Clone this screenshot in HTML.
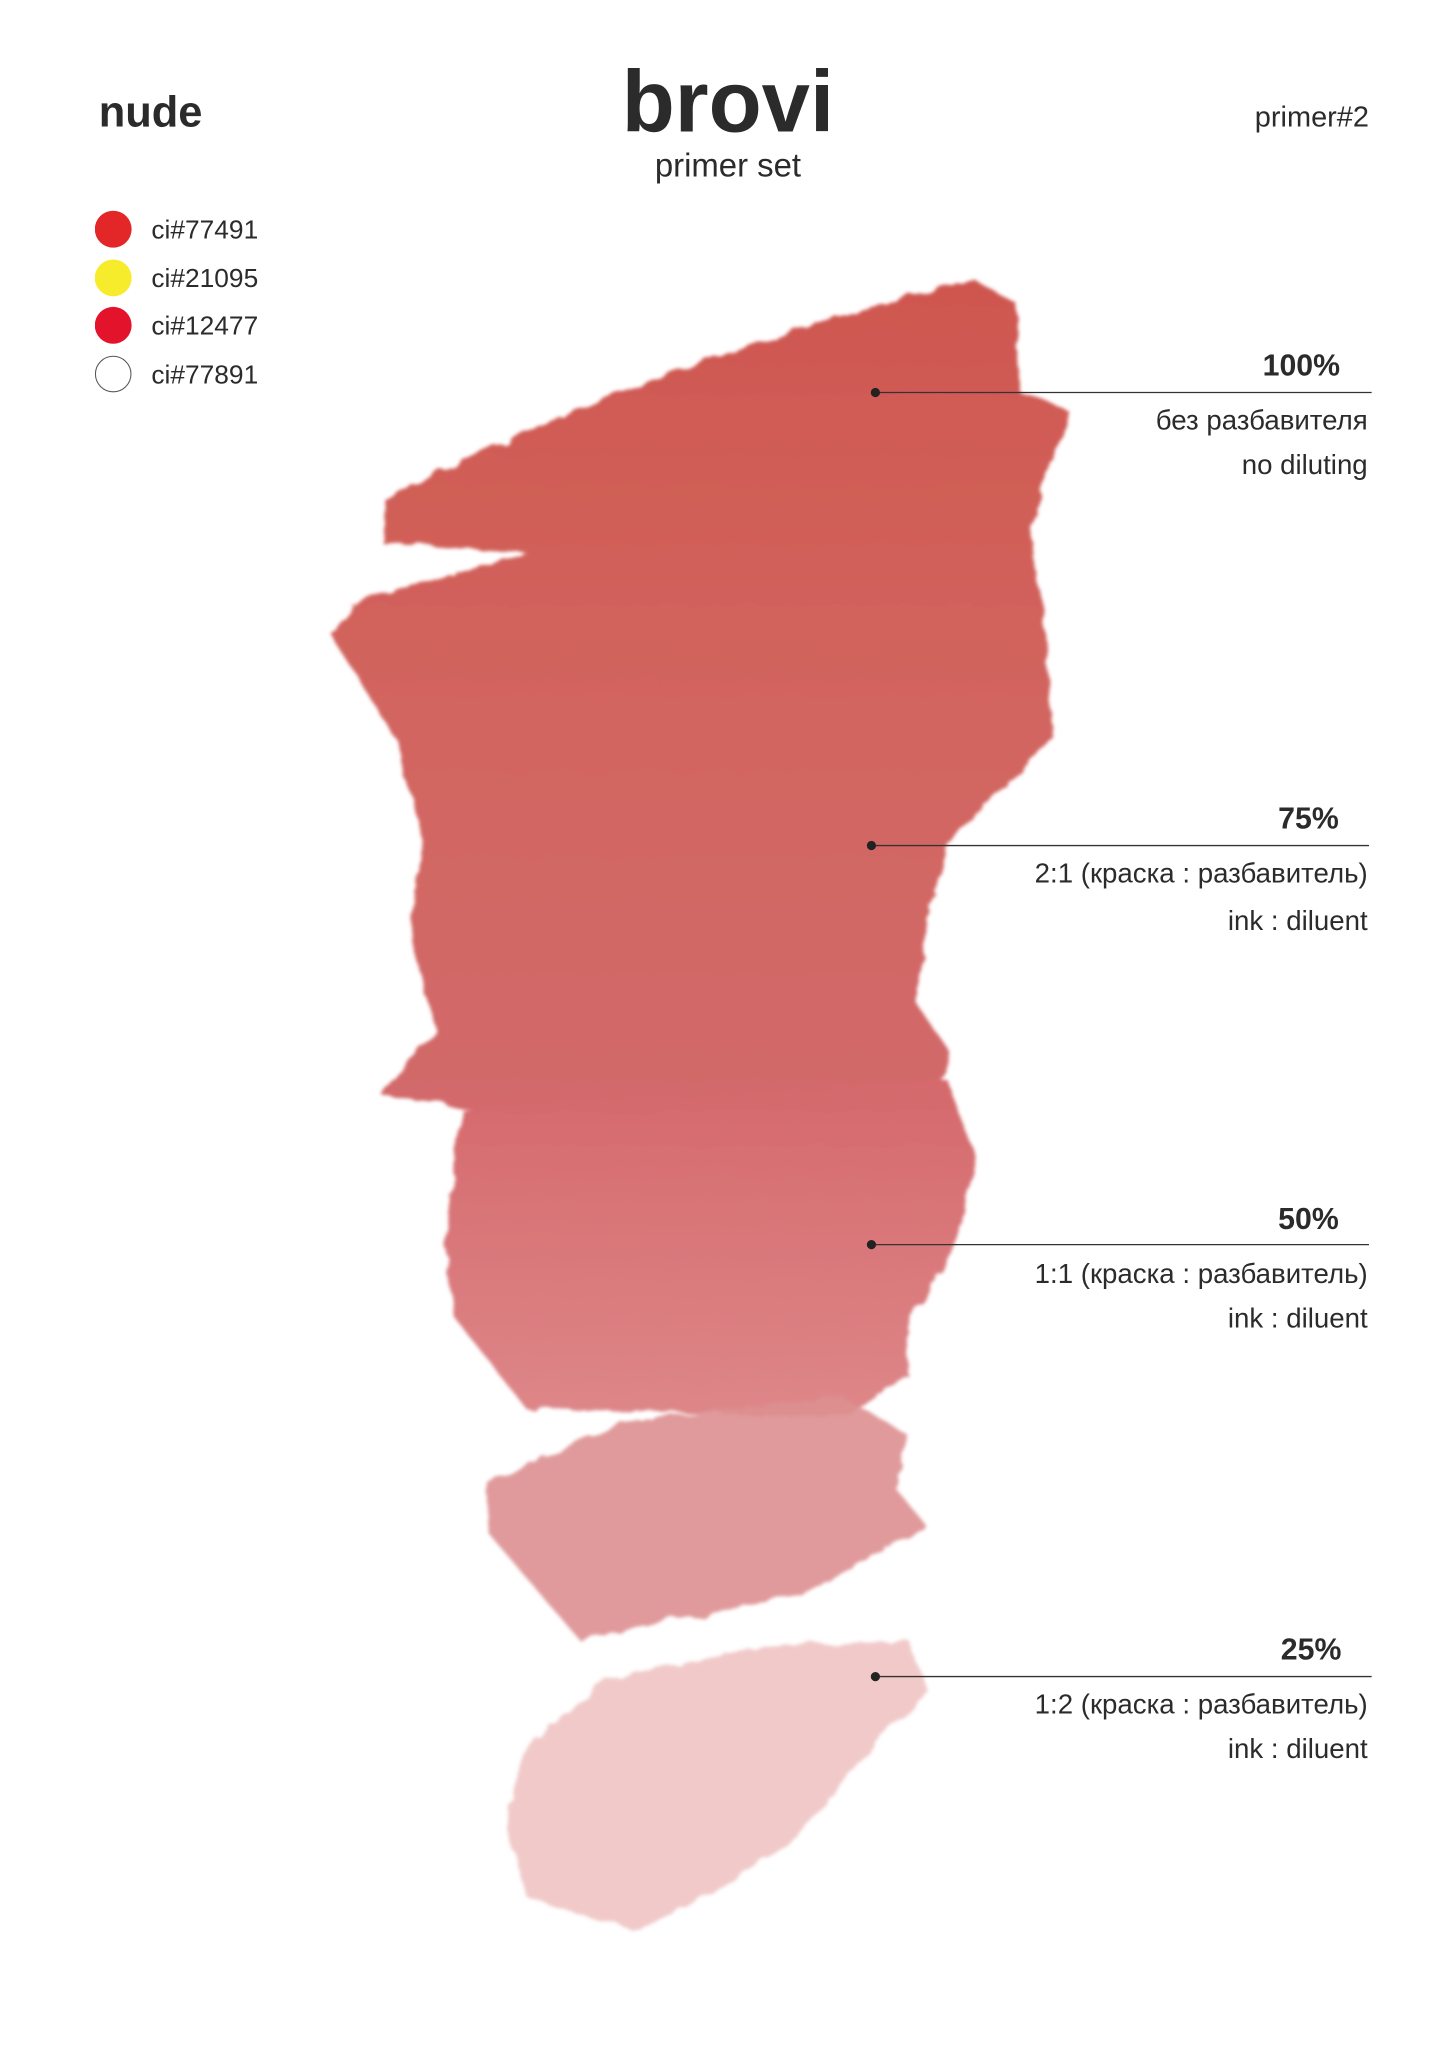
<!DOCTYPE html>
<html><head><meta charset="utf-8"><style>
html,body{margin:0;padding:0;background:#fff;}
svg{display:block;}
text{font-family:"Liberation Sans","DejaVu Sans",sans-serif;fill:#2b2b2b;}
</style></head><body>
<svg width="1448" height="2048" viewBox="0 0 1100 1555" preserveAspectRatio="none" xmlns="http://www.w3.org/2000/svg">
<defs>
<linearGradient id="g1" x1="0" y1="0" x2="0" y2="1">
<stop offset="0" stop-color="#cf5750"/>
<stop offset="0.5" stop-color="#d2655f"/>
<stop offset="1" stop-color="#d36a6b"/>
</linearGradient>
<linearGradient id="g2" x1="0" y1="0" x2="0" y2="1">
<stop offset="0" stop-color="#d5696c"/>
<stop offset="1" stop-color="#de8789"/>
</linearGradient>
<filter id="rough" x="-10%" y="-10%" width="120%" height="120%">
<feTurbulence type="fractalNoise" baseFrequency="0.05" numOctaves="3" seed="3"/>
<feDisplacementMap in="SourceGraphic" scale="9"/>
<feGaussianBlur stdDeviation="1.5"/>
</filter>
</defs>
<g filter="url(#rough)">
<polygon fill="url(#g1)" points="290,412 292,378 450,305 620,245 740,212 772,230 775,298 812,312 782,400 795,480 800,560 760,600 720,640 705,700 695,760 722,800 705,850 380,845 290,832 330,780 310,700 322,640 300,560 250,480 268,458 400,420"/>
<polygon fill="url(#g2)" points="350,842 720,820 742,880 725,950 692,1000 690,1045 640,1075 400,1070 345,1000 338,940"/>
<polygon fill="#dd8f90" opacity="0.9" points="370,1125 470,1080 640,1060 690,1090 680,1130 705,1160 610,1210 440,1245 410,1210 372,1165"/>
<polygon fill="#efc3c3" opacity="0.9" points="395,1330 460,1275 580,1250 690,1245 705,1285 650,1340 600,1400 520,1450 480,1465 400,1440 386,1390"/>
</g>
<text x="75" y="96" font-size="33" font-weight="bold">nude</text>
<text x="553" y="100" font-size="66" font-weight="bold" text-anchor="middle">brovi</text>
<text x="553" y="134" font-size="25" text-anchor="middle">primer set</text>
<text x="1040" y="96" font-size="22" text-anchor="end">primer#2</text>
<circle cx="86" cy="174" r="14" fill="#e32728"/>
<circle cx="86" cy="211" r="14" fill="#f7ec2b"/>
<circle cx="86" cy="247" r="14" fill="#e2132b"/>
<circle cx="86" cy="284" r="13.5" fill="#fff" stroke="#555" stroke-width="0.8"/>
<g font-size="20"><text x="115" y="181">ci#77491</text><text x="115" y="218">ci#21095</text><text x="115" y="254">ci#12477</text><text x="115" y="291">ci#77891</text></g>
<g stroke="#333" stroke-width="1"><line x1="665" y1="298" x2="1042" y2="298"/><line x1="662" y1="642" x2="1040" y2="642"/><line x1="662" y1="945" x2="1040" y2="945"/><line x1="665" y1="1273" x2="1042" y2="1273"/></g>
<g fill="#222"><circle cx="665" cy="298" r="3.5"/><circle cx="662" cy="642" r="3.5"/><circle cx="662" cy="945" r="3.5"/><circle cx="665" cy="1273" r="3.5"/></g>
<g font-size="21" text-anchor="end">
<text x="1018" y="285" font-weight="bold" font-size="23">100%</text>
<text x="1039" y="326">без разбавителя</text><text x="1039" y="360">no diluting</text>
<text x="1017" y="629" font-weight="bold" font-size="23">75%</text>
<text x="1039" y="670">2:1 (краска : разбавитель)</text><text x="1039" y="706">ink : diluent</text>
<text x="1017" y="933" font-weight="bold" font-size="23">50%</text>
<text x="1039" y="974">1:1 (краска : разбавитель)</text><text x="1039" y="1008">ink : diluent</text>
<text x="1019" y="1260" font-weight="bold" font-size="23">25%</text>
<text x="1039" y="1301">1:2 (краска : разбавитель)</text><text x="1039" y="1335">ink : diluent</text>
</g>
</svg>
</body></html>
